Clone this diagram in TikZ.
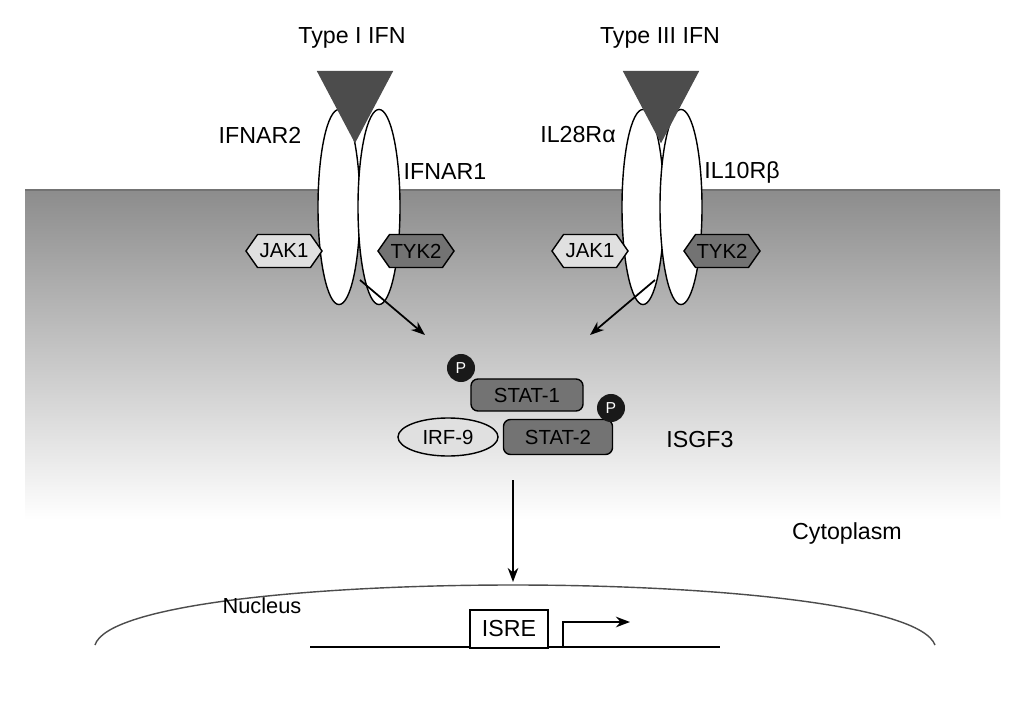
\documentclass[tikz,border=0pt]{standalone}
\usepackage{fontspec}
\setmainfont{Liberation Sans}
\usetikzlibrary{shapes.geometric,shapes.symbols,arrows.meta}
\begin{document}
\begin{tikzpicture}[x=0.01cm,y=-0.01cm,
  lbl/.style={font=\fontsize{6.6}{8}\selectfont,inner sep=0},
  small/.style={font=\fontsize{5.8}{7}\selectfont,inner sep=0},
  rec/.style={ellipse,draw,fill=white,line width=0.4pt,minimum width=0.42cm,minimum height=1.95cm,inner sep=0},
  lig/.style={isosceles triangle,shape border rotate=-90,isosceles triangle apex angle=55,isosceles triangle stretches,fill=black!70,draw=black!70,minimum height=0.70cm,minimum width=0.74cm,inner sep=0},
  hexL/.style={signal,signal to=west and east,signal pointer angle=110,draw,line width=0.4pt,fill=black!12,minimum width=0.76cm,minimum height=0.33cm,inner sep=0,font=\fontsize{5.8}{7}\selectfont},
  hexD/.style={hexL,fill=black!55},
  stat/.style={rounded corners=2,draw,line width=0.4pt,fill=black!55,minimum width=1.12cm,minimum height=0.32cm,inner sep=0,font=\fontsize{5.8}{7}\selectfont},
  pp/.style={circle,fill=black!90,text=white,minimum size=0.28cm,inner sep=0,font=\fontsize{4.5}{5}\selectfont},
  arr/.style={-{Stealth[length=4pt,width=3pt]},line width=0.5pt}]
\useasboundingbox (0,0) rectangle (1024,718);
\fill[white] (0,0) rectangle (1024,718);
\shade[top color=black!45,bottom color=white] (25,190) rectangle (1000,520);
\fill[white] (25,520) rectangle (1000,700);
\draw[black!55,line width=0.6pt] (25,190) -- (1000,190);
% receptors
\node[rec] (r2) at (339,207) {};
\node[rec] (r1) at (379,207) {};
\node[rec] (r28) at (643,207) {};
\node[rec] (r10) at (681,207) {};
% ligands
\node[lig] (t1) at (355,94) {};
\node[lig] (t3) at (661,94) {};
\node[lbl] (lt1) at (352,38) {Type I IFN};
\node[lbl] (lt3) at (660,38) {Type III IFN};
\node[lbl] at (260,135) {IFNAR2};
\node[lbl] at (445,172) {IFNAR1};
\node[lbl] at (578,135) {IL28Rα};
\node[lbl] at (742,172) {IL10Rβ};
% kinases
\node[hexL] (j1) at (284,251) {JAK1};
\node[hexD] (k1) at (416,251) {TYK2};
\node[hexL] (j3) at (590,251) {JAK1};
\node[hexD] (k3) at (722,251) {TYK2};
% complex
\node[stat] (s1) at (527,395) {STAT-1};
\node[ellipse,draw,line width=0.4pt,fill=black!12,minimum width=1.0cm,minimum height=0.38cm,inner sep=0,font=\fontsize{5.8}{7}\selectfont] (irf) at (448,437) {IRF-9};
\node[stat,minimum width=1.09cm,minimum height=0.35cm] (s2) at (558,437) {STAT-2};
\node[pp] (p1) at (461,368) {P};
\node[pp] (p2) at (611,408) {P};
\node[lbl] (isgf) at (700,440) {ISGF3};
\coordinate (a1s) at (360,280); \coordinate (a1e) at (425,335);
\coordinate (a2s) at (655,280); \coordinate (a2e) at (590,335);
\draw[arr] (a1s) -- (a1e);
\draw[arr] (a2s) -- (a2e);
\coordinate (a3s) at (513,480); \coordinate (a3e) at (513,582);
\draw[arr] (a3s) -- (a3e);
\node[lbl] at (847,533) {Cytoplasm};
% nucleus
\draw[line width=0.4pt,black!70] (95,645) .. controls (120,565) and (905,565) .. (935,645);
\node[small,font=\fontsize{6.2}{7}\selectfont] at (262,606) {Nucleus};
\draw[line width=0.6pt] (310,647) -- (720,647);
\node[draw,fill=white,line width=0.5pt,minimum width=0.78cm,minimum height=0.38cm,inner sep=0,font=\fontsize{6.6}{8}\selectfont] (isre) at (509,629) {ISRE};
\coordinate (pr0) at (563,647); \coordinate (pr1) at (563,622); \coordinate (pr2) at (630,622);
\draw[-{Stealth[length=4pt,width=3pt]},line width=0.6pt] (pr0) -- (pr1) -- (pr2);
\end{tikzpicture}
\end{document}
